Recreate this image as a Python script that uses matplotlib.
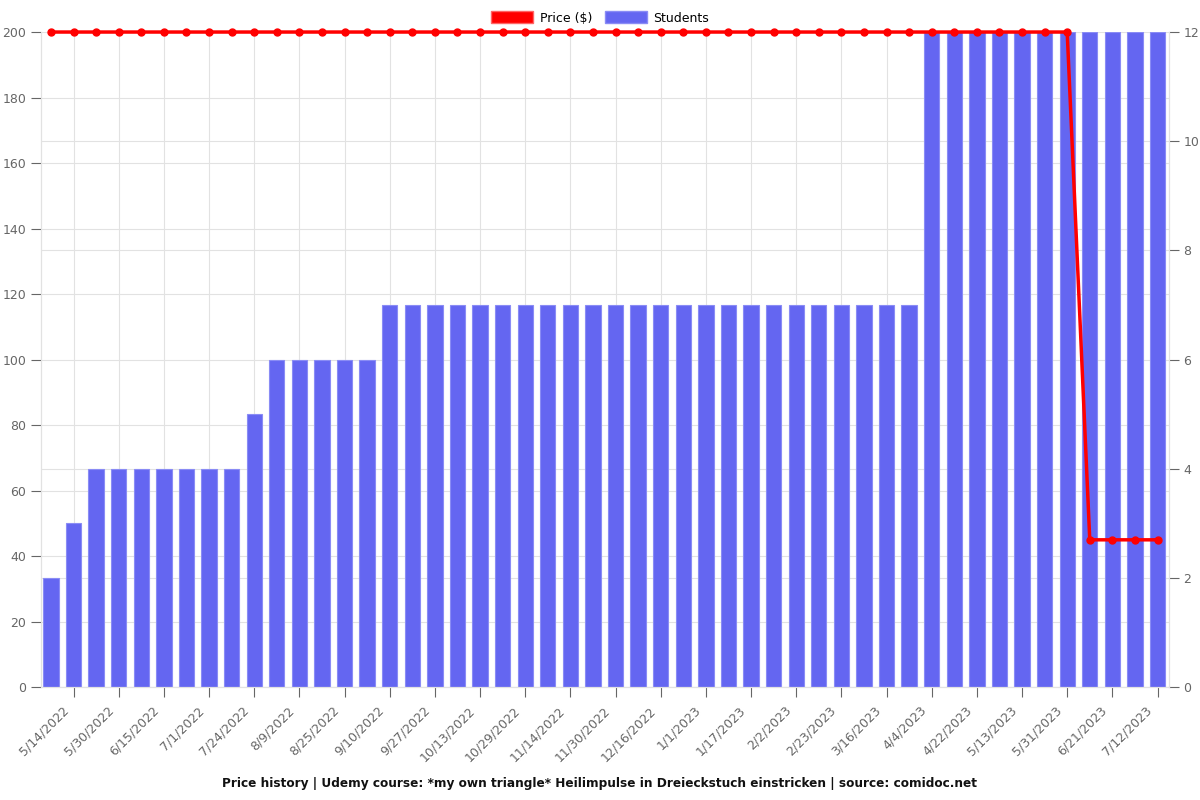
import numpy as np
import matplotlib
matplotlib.use("Agg")
import matplotlib.pyplot as plt
from matplotlib.patches import Patch
import matplotlib.ticker as ticker
import matplotlib.transforms as mtransforms

# tick labels (shown on every second bar)
date_labels = ["5/14/2022", "5/30/2022", "6/15/2022", "7/1/2022", "7/24/2022",
               "8/9/2022", "8/25/2022", "9/10/2022", "9/27/2022", "10/13/2022",
               "10/29/2022", "11/14/2022", "11/30/2022", "12/16/2022", "1/1/2023",
               "1/17/2023", "2/2/2023", "2/23/2023", "3/16/2023", "4/4/2023",
               "4/22/2023", "5/13/2023", "5/31/2023", "6/21/2023", "7/12/2023"]

students = [2, 3, 4, 4, 4, 4, 4, 4, 4, 5,
            6, 6, 6, 6, 6, 7, 7, 7, 7, 7,
            7, 7, 7, 7, 7, 7, 7, 7, 7, 7,
            7, 7, 7, 7, 7, 7, 7, 7, 7, 12,
            12, 12, 12, 12, 12, 12, 12, 12, 12, 12]

price = [199.99] * 46 + [44.99] * 4

x = np.arange(len(students))
grid_col = "#e2e2e2"
txt_col = "#666666"
fs = 9

fig = plt.figure(figsize=(12, 8), dpi=100)
ax = fig.add_axes([0.034, 0.141, 0.94, 0.819])

# bars on the students (right) scale
ax.bar(x, students, width=0.68, color="#6466f1", edgecolor="#8a8cf5", linewidth=0.8, zorder=2)
ax.set_ylim(0, 12)
ax.set_xlim(-0.45, len(x) - 0.5)

# price line on the left scale
ax2 = ax.twinx()
ax2.plot(x, price, color="#ff0000", linewidth=2.5, marker="o", markersize=5, zorder=5, clip_on=False)
ax2.set_ylim(0, 200)
ax2.yaxis.tick_left()
ax2.set_yticks(np.arange(0, 201, 20))
ax2.tick_params(axis="y", colors=txt_col, labelsize=fs, length=7)

ax.yaxis.tick_right()
ax.set_yticks(np.arange(0, 13, 2))
# price gridlines (every 20 $) drawn on the bar axis so they stay behind bars
ax.yaxis.set_minor_locator(ticker.FixedLocator(np.arange(0, 201, 20) * 12 / 200))
ax.yaxis.set_minor_formatter(ticker.NullFormatter())
ax.set_xticks(np.arange(1, len(x), 2))
ax.set_xticklabels(date_labels, rotation=45, ha="right", rotation_mode="anchor")
ax.grid(True, which="major", color=grid_col, linewidth=0.8, zorder=0)
ax.grid(True, which="minor", axis="y", color=grid_col, linewidth=0.8, zorder=0)
ax.set_axisbelow(True)
ax.tick_params(axis="y", which="minor", length=0)
ax.tick_params(axis="both", colors=txt_col, labelsize=fs, length=7, direction="out")

shift = mtransforms.ScaledTranslation(-12 / 100, -2 / 100, fig.dpi_scale_trans)
for lab in ax.get_xticklabels():
    lab.set_transform(lab.get_transform() + shift)

for a in (ax, ax2):
    for t in a.get_xticklines() + a.get_yticklines():
        t.set_color(grid_col)
    for s in a.spines.values():
        s.set_color(grid_col)
    a.spines["top"].set_visible(False)

handles = [Patch(facecolor="#ff0000", edgecolor="#ff6666", label="Price ($)"),
           Patch(facecolor="#6466f1", edgecolor="#8a8cf5", label="Students")]
fig.legend(handles=handles, loc="upper center", bbox_to_anchor=(0.5, 1.0), ncol=2,
           frameon=False, fontsize=fs, handlelength=3.4, handleheight=1.1,
           columnspacing=1.0, handletextpad=0.5)

fig.text(0.5, 0.012, "Price history | Udemy course: *my own triangle* Heilimpulse in Dreieckstuch einstricken | source: comidoc.net",
         ha="center", va="bottom", fontsize=8.7, fontweight="bold", color="#111111")

fig.savefig("out.png", dpi=100)
